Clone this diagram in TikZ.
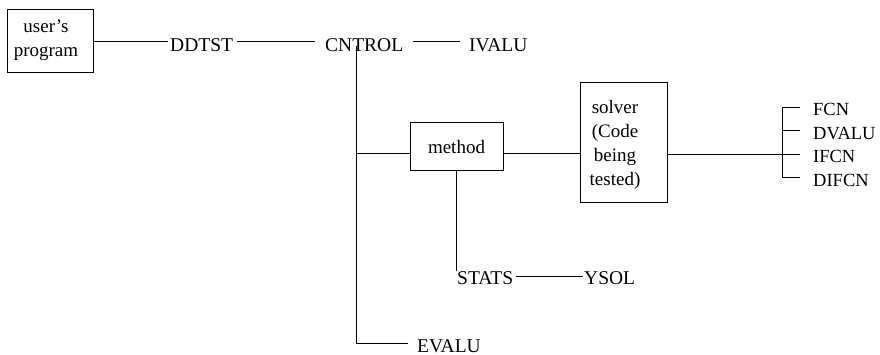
\documentclass[tikz,border=0pt]{standalone}
\usepackage{fontspec}
\setmainfont{Liberation Serif}
\begin{document}
\begin{tikzpicture}[x=1pt,y=1pt,
  lbl/.style={inner sep=0pt, anchor=base west, font=\fontsize{19.5}{24}\selectfont},
  rlbl/.style={inner sep=0pt, anchor=base west, font=\fontsize{18.5}{22}\selectfont},
  boxnode/.style={draw, line width=1pt, inner sep=0pt, align=center, font=\fontsize{19}{24}\selectfont},
  boxtext/.style={inner sep=0pt, align=center, font=\fontsize{19}{24}\selectfont},
  conn/.style={line width=1pt}]
\useasboundingbox (0,0) rectangle (880,-355);
% boxes
\node[boxnode, minimum width=86, minimum height=63] (u) at (50,-41.5) {};
\node[boxtext] (ut) at (46,-40.5) {user's\\program};
\node[boxnode, minimum width=93, minimum height=48] (m) at (456.5,-147) {method};
\node[boxnode, minimum width=87, minimum height=120] (s) at (623.5,-143) {};
\node[boxtext] (st) at (615,-145) {solver\\(Code\\being\\tested)};
% labels
\node[lbl] (ddtst) at (170,-52) {DDTST};
\node[lbl] (cntrol) at (325,-52) {CNTROL};
\node[lbl] (ivalu) at (469,-52) {IVALU};
\node[lbl] (evalu) at (417,-352) {EVALU};
\node[lbl] (stats) at (457,-284) {STATS};
\node[lbl] (ysol) at (584,-284) {YSOL};
\node[rlbl] (fcn) at (813,-116) {FCN};
\node[rlbl] (dvalu) at (813,-140) {DVALU};
\node[rlbl] (ifcn) at (813,-163) {IFCN};
\node[rlbl] (difcn) at (813,-187) {DIFCN};
% helper coordinates
\coordinate (tv) at (356,-46);
\coordinate (ml) at (0,-154);
\coordinate (b1) at (782,-108);
\coordinate (b2) at (782,-131);
\coordinate (b3) at (782,-155);
\coordinate (b4) at (782,-178);
% top row
\draw[conn] (u.east) -- ([xshift=-2pt]u.east -| ddtst.west);
\draw[conn] ([xshift=4pt]u.east -| ddtst.east) -- ([xshift=-10pt]u.east -| cntrol.west);
\draw[conn] ([xshift=10pt]u.east -| cntrol.east) -- ([xshift=-9pt]u.east -| ivalu.west);
% main vertical
\draw[conn] (tv) |- ([xshift=-9pt,yshift=2.5pt]evalu.west);
\draw[conn] (tv |- ml) -- (m.west |- ml);
\draw[conn] (m.east |- ml) -- (s.west |- ml);
% method down
\draw[conn] (m.south) -- ([yshift=13pt]m.south |- stats.base);
\draw[conn] ([xshift=3pt,yshift=1pt]stats.east) -- ([xshift=-1pt,yshift=1pt]stats.east -| ysol.west);
% solver to bracket
\draw[conn] (s.east |- b3) -- ([xshift=-13pt]b3 -| ifcn.west);
\draw[conn] (b1) -- (b4);
\draw[conn] (b1) -- ([xshift=-13pt]b1 -| fcn.west);
\draw[conn] (b2) -- ([xshift=-13pt]b2 -| dvalu.west);
\draw[conn] (b4) -- ([xshift=-13pt]b4 -| difcn.west);
\end{tikzpicture}
\end{document}
